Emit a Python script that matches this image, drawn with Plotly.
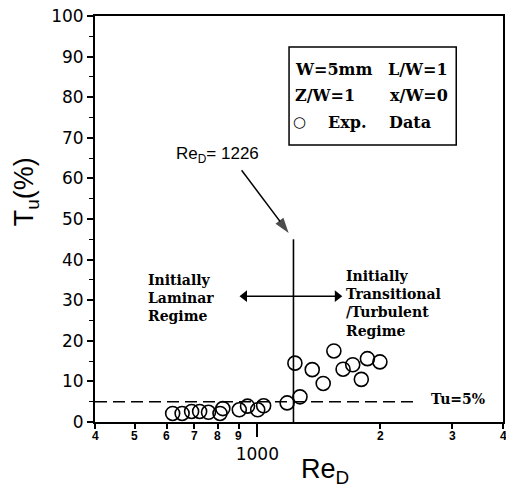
import math
import plotly.graph_objects as go

# Turbulence intensity Tu (%) measured against jet Reynolds number Re_D
re_d = [620, 654, 690, 722, 759, 810, 823, 903, 946, 1002, 1036, 1183, 1272,
        1236, 1363, 1450, 1540, 1622, 1713, 1798, 1861, 1997]
tu = [2.1, 2.1, 2.6, 2.6, 2.4, 2.1, 3.3, 3.0, 3.9, 3.0, 4.0, 4.7, 6.2,
      14.5, 12.9, 9.5, 17.5, 13.0, 14.1, 10.5, 15.6, 14.8]

re_crit = 1226          # critical Reynolds number marked on the chart
crit_line_top = 45      # height of the vertical regime boundary (Tu %)
tu_ref = 5              # reference turbulence level (Tu = 5 %)
tu_ref_end = 2440       # where the dashed reference line stops
regime_arrow = (930, 1570, 31)   # left end, right end, level of the double arrow
callout_tail = (915, 62)         # start of the arrow pointing at Re_D = 1226

x_range = [400, 4000]
x_minor_vals = [400, 500, 600, 700, 800, 900, 2000, 3000, 4000]
x_minor_text = ["4", "5", "6", "7", "8", "9", "2", "3", "4"]
y_ticks = list(range(0, 101, 10))

# plot-area geometry in pixels (used to place free text in paper units)
W, H = 506, 488
ML, MR, MT, MB = 95, 1, 16, 66
PW, PH = W - ML - MR, H - MT - MB


def px(x):
    return (x - ML) / PW


def py(y):
    return (MT + PH - y) / PH


SANS = "Liberation Sans, Arial, sans-serif"
TICK = "DejaVu Sans, sans-serif"
SERIF = "DejaVu Serif, serif"
BLACK = "black"

fig = go.Figure()

# dashed Tu = 5 % reference line
fig.add_trace(go.Scatter(
    x=[x_range[0], tu_ref_end], y=[tu_ref, tu_ref], mode="lines",
    line=dict(color=BLACK, width=1.5, dash="12px,6px"), hoverinfo="skip"))

# vertical boundary at the critical Reynolds number
fig.add_trace(go.Scatter(
    x=[re_crit, re_crit], y=[0, crit_line_top], mode="lines",
    line=dict(color=BLACK, width=1.6), hoverinfo="skip"))

# callout arrow from the label down to the top of the boundary
fig.add_trace(go.Scatter(
    x=[callout_tail[0], re_crit], y=[callout_tail[1], crit_line_top],
    mode="lines+markers",
    line=dict(color=BLACK, width=1.5),
    marker=dict(symbol=["circle", "arrow"], size=[0, 16], color=BLACK,
                angleref="previous", standoff=[0, 8],
                line=dict(width=0)),
    hoverinfo="skip"))

# double arrow between the two regimes
a_left, a_right, a_y = regime_arrow
fig.add_trace(go.Scatter(
    x=[a_left, a_right], y=[a_y, a_y], mode="lines+markers",
    line=dict(color=BLACK, width=1.5),
    marker=dict(symbol=["triangle-left", "triangle-right"], size=10, color=BLACK,
                line=dict(width=0)),
    hoverinfo="skip"))

# experimental data
fig.add_trace(go.Scatter(
    x=re_d, y=tu, mode="markers",
    marker=dict(symbol="circle-open", size=14, color=BLACK,
                line=dict(color=BLACK, width=1.6))))


def label(x, y, text, size, family, xanchor="center", yanchor="middle", **kw):
    return dict(x=x, y=y, xref="paper", yref="paper", text=text,
                showarrow=False, xanchor=xanchor, yanchor=yanchor,
                font=dict(family=family, size=size, color=BLACK), **kw)


annotations = []

# small decade tick labels on the log axis
for v, t in zip(x_minor_vals, x_minor_text):
    annotations.append(dict(
        x=math.log10(v), y=0, xref="x", yref="paper",
        xanchor="center", yanchor="top",
        yshift=-5, text=f"<b>{t}</b>", showarrow=False,
        font=dict(family=SANS, size=12, color=BLACK)))

# axis titles
annotations.append(label(px(326), py(471), "Re<sub>D</sub>", 27, SANS))
annotations.append(label(px(26), py(192), "T<sub>u</sub>(%)", 27, SANS,
                         textangle=-90))

# critical Reynolds number label
annotations.append(label(px(218), py(155), "Re<sub>D</sub>= 1226", 17, SANS))

# regime labels
annotations.append(label(px(146), py(270),
                         "<b>Initially<br>Laminar<br>Regime</b>", 14, SERIF,
                         xanchor="left", yanchor="top", align="left"))
annotations.append(label(px(345), py(266),
                         "<b>Initially<br>Transitional<br>/Turbulent<br>Regime</b>",
                         14, SERIF, xanchor="left", yanchor="top", align="left"))
annotations.append(label(px(489), py(399), "<b>Tu=5%</b>", 14, SERIF,
                         xanchor="right"))

# parameter box
box_rows = [
    (294, 70, "W=5mm"), (387, 70, "L/W=1"),
    (294, 96, "Z/W=1"), (389, 96, "x/W=0"),
    (327, 122, "Exp."), (388, 122, "Data"),
]
for x, y, t in box_rows:
    annotations.append(label(px(x), py(y), f"<b>{t}</b>", 16, SERIF,
                             xanchor="left"))
annotations.append(label(px(300), py(122), "○", 15, "DejaVu Sans"))

shapes = [dict(
    type="rect", xref="paper", yref="paper",
    x0=px(290), x1=px(458), y0=py(145), y1=py(47),
    line=dict(color=BLACK, width=1.5), fillcolor="white", layer="below")]

fig.update_layout(
    width=W, height=H,
    margin=dict(l=ML, r=MR, t=MT, b=MB, pad=0),
    paper_bgcolor="white", plot_bgcolor="white",
    showlegend=False,
    annotations=annotations,
    shapes=shapes,
    xaxis=dict(
        type="log", range=[math.log10(x_range[0]), math.log10(x_range[1])],
        showline=True, mirror=True, linecolor=BLACK, linewidth=2,
        showgrid=False, zeroline=False,
        tickmode="array", tickvals=[1000], ticktext=["1000"],
        ticks="outside", ticklen=13, tickwidth=1.5, tickcolor=BLACK,
        ticklabelstandoff=3,
        tickfont=dict(family=TICK, size=17, color=BLACK),
        minor=dict(tickmode="array", tickvals=x_minor_vals, ticks="outside",
                   ticklen=5, tickwidth=1.5, tickcolor=BLACK, showgrid=False),
    ),
    yaxis=dict(
        range=[0, 100], showline=True, mirror=True, linecolor=BLACK, linewidth=2,
        showgrid=False, zeroline=False,
        tickmode="array", tickvals=y_ticks,
        ticks="outside", ticklen=6, tickwidth=1.5, tickcolor=BLACK,
        tickfont=dict(family=TICK, size=17, color=BLACK),
        minor=dict(dtick=5, ticks="outside", ticklen=4, tickwidth=1.2,
                   tickcolor=BLACK, showgrid=False),
    ),
)

fig.write_html("out.html")
